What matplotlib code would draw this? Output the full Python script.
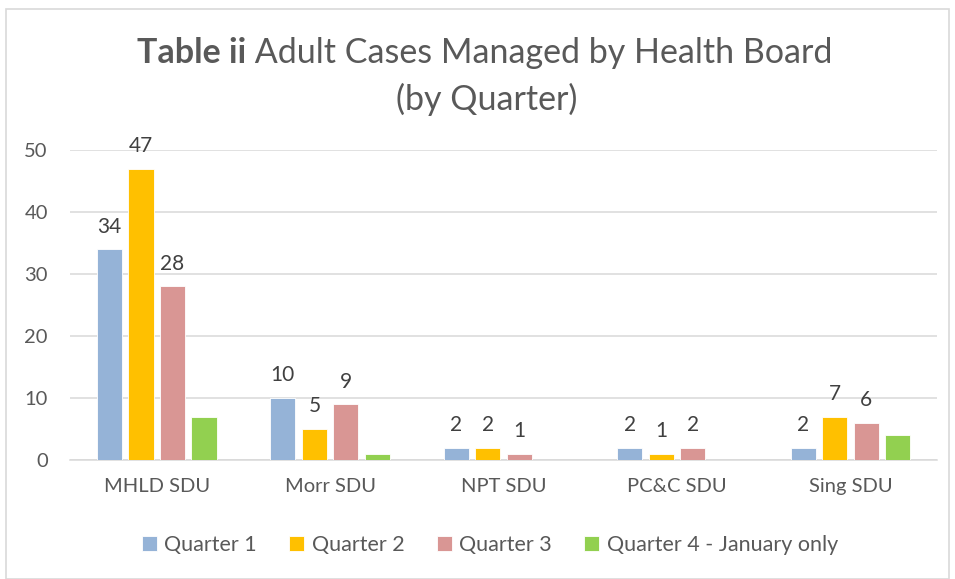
import matplotlib.pyplot as plt
import numpy as np
from matplotlib.patches import Rectangle

categories = ['MHLD SDU', 'Morr SDU', 'NPT SDU', 'PC&C SDU', 'Sing SDU']
quarter1 = [34, 10, 2, 2, 2]
quarter2 = [47, 5, 2, 1, 7]
quarter3 = [28, 9, 1, 2, 6]
quarter4 = [7, 1, 0, 0, 4]  # no data labels on this series
series_names = ['Quarter 1', 'Quarter 2', 'Quarter 3', 'Quarter 4 - January only']
colours = ['#95B3D7', '#FFC000', '#D99694', '#92D050']

plt.rcParams['font.family'] = ['Lato', 'DejaVu Sans']

fig = plt.figure(figsize=(9.55, 5.79), dpi=100)
fig.patches.append(Rectangle((0.006, 0.0), 0.988, 0.985, transform=fig.transFigure,
                             fill=False, edgecolor='#d9d9d9', linewidth=1.2))

ax = fig.add_axes([0.0733, 0.2055, 0.908, 0.5354])

x = np.arange(len(categories))
step = 0.182
width = 0.145
all_series = [quarter1, quarter2, quarter3, quarter4]
for i, (vals, name, col) in enumerate(zip(all_series, series_names, colours)):
    pos = x + (i - 1.5) * step
    bars = ax.bar(pos, vals, width, color=col, label=name, edgecolor='white', linewidth=0.6, zorder=3)
    if i < 3:
        for b, v in zip(bars, vals):
            ax.annotate(str(v), (b.get_x() + b.get_width() / 2, v), xytext=(0, 12),
                        textcoords='offset points', ha='center', va='baseline',
                        fontsize=15, color='#404040')

ax.set_xlim(-0.5, len(categories) - 0.5)
ax.set_ylim(0, 50)
ax.set_yticks(range(0, 51, 10))
ax.set_xticks(x)
ax.set_xticklabels(categories)
ax.yaxis.grid(True, color='#d9d9d9', linewidth=1.1, zorder=0)
ax.set_axisbelow(True)
for s in ['top', 'right', 'left']:
    ax.spines[s].set_visible(False)
ax.spines['bottom'].set_color('#d9d9d9')
ax.spines['bottom'].set_linewidth(1.1)
ax.tick_params(axis='both', length=0, labelsize=14.5, labelcolor='#595959')
ax.tick_params(axis='x', pad=13)
ax.tick_params(axis='y', pad=16)

# title: bold lead-in then regular text, centred as one line
t1 = fig.text(0, 0, 'Table ii', fontsize=24.5, fontweight='bold', color='#595959')
t2 = fig.text(0, 0, ' Adult Cases Managed by Health Board', fontsize=24.5, color='#595959')
r = fig.canvas.get_renderer()
w1 = t1.get_window_extent(r).width
w2 = t2.get_window_extent(r).width
cx = 485
y1 = 579 - 63
t1.set_position(((cx - (w1 + w2) / 2) / 955, y1 / 579))
t2.set_position(((cx - (w1 + w2) / 2 + w1) / 955, y1 / 579))
fig.text(487 / 955, (579 - 110) / 579, '(by Quarter)', fontsize=24.5, color='#595959', ha='center')

fig.legend(loc='center', bbox_to_anchor=(0.513, 0.0587), ncol=4, frameon=False,
           fontsize=15.5, labelcolor='#595959', handlelength=0.7, handleheight=0.7,
           handletextpad=0.35, columnspacing=1.5)

fig.savefig('out.png', dpi=100)
